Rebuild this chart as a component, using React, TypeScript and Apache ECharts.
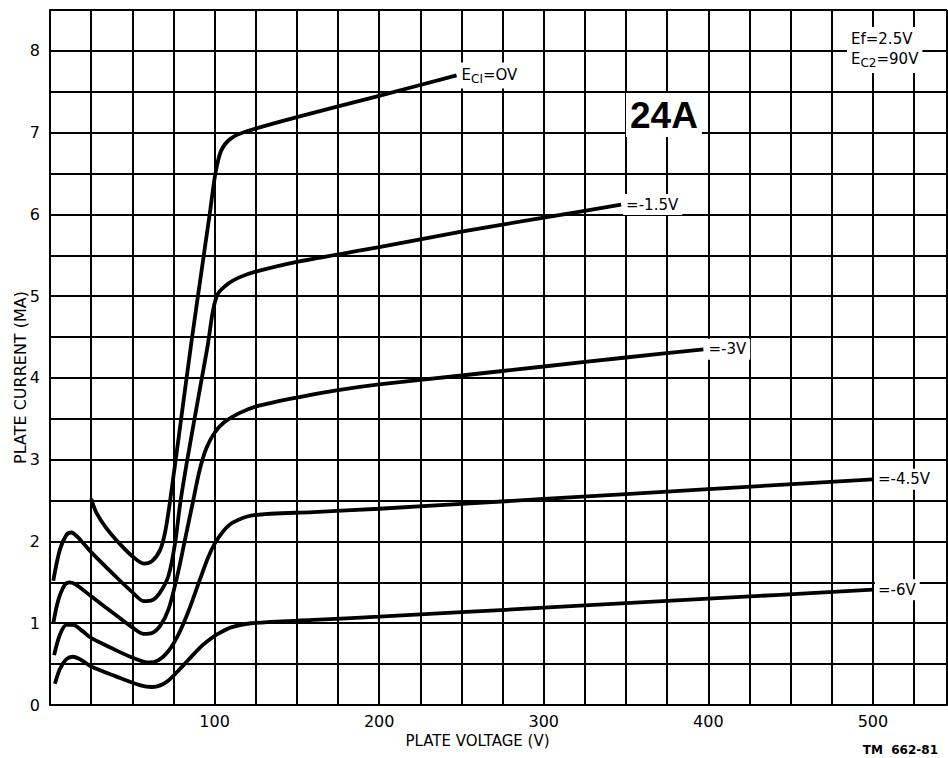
import React, { useEffect, useRef } from "react";
import * as echarts from "echarts";

const FONT = '"DejaVu Sans", "Noto Sans", sans-serif';

// Plate voltage (V) vs plate current (mA) for each control-grid bias
const curveEc0 = [
  [25, 2.52], [28, 2.36], [34, 2.17], [42, 1.98], [50, 1.82], [57, 1.73], [62, 1.76],
  [67, 1.9], [70, 2.12], [73, 2.5], [80, 3.55], [86, 4.45], [92, 5.3], [97, 6.0],
  [100.5, 6.5], [104, 6.78], [110, 6.93], [120, 7.02], [150, 7.19], [200, 7.45], [247, 7.7],
];
const curveEcM15 = [
  [2, 1.52], [6, 1.9], [10, 2.08], [13, 2.11], [17, 2.05], [25, 1.87], [40, 1.57],
  [50, 1.38], [57, 1.27], [62, 1.28], [67, 1.38], [72, 1.58], [76, 1.98], [79, 2.45],
  [83, 2.95], [88, 3.52], [92, 3.97], [96, 4.42], [99, 4.82], [102, 5.03], [108, 5.15],
  [115, 5.23], [125, 5.3], [150, 5.42], [200, 5.6], [250, 5.79], [300, 5.96], [347, 6.12],
];
const curveEcM3 = [
  [2, 1.0], [5, 1.28], [9, 1.47], [12, 1.5], [16, 1.47], [25, 1.33], [40, 1.1],
  [50, 0.95], [57, 0.87], [62, 0.88], [67, 0.97], [72, 1.17], [77, 1.55], [82, 2.02],
  [87, 2.5], [91, 2.88], [95, 3.14], [100, 3.33], [106, 3.46], [115, 3.57], [125, 3.65],
  [150, 3.76], [175, 3.85], [200, 3.92], [250, 4.03], [300, 4.14], [350, 4.25], [397, 4.35],
];
const curveEcM45 = [
  [2.5, 0.61], [6, 0.86], [10, 0.98], [14, 0.98], [20, 0.9], [25, 0.82], [40, 0.67],
  [50, 0.58], [60, 0.52], [66, 0.55], [72, 0.66], [78, 0.86], [84, 1.14], [91, 1.53],
  [96, 1.8], [100, 1.97], [105, 2.12], [111, 2.23], [123, 2.32], [160, 2.36], [200, 2.4],
  [300, 2.52], [400, 2.64], [500, 2.76],
];
const curveEcM6 = [
  [3, 0.26], [6, 0.44], [10, 0.56], [14, 0.59], [19, 0.55], [25, 0.47], [40, 0.35],
  [55, 0.24], [62, 0.22], [67, 0.24], [72, 0.3], [78, 0.42], [84, 0.55], [91, 0.7],
  [97, 0.8], [102, 0.87], [110, 0.95], [122, 1.0], [160, 1.04], [200, 1.08], [300, 1.19],
  [400, 1.3], [500, 1.41],
];

const curveLabels = ["{e|E}{s|CI}{e|=OV}", "=-1.5V", "=-3V", "=-4.5V", "=-6V"];
const curveNames = ["Ec1=0V", "Ec1=-1.5V", "Ec1=-3V", "Ec1=-4.5V", "Ec1=-6V"];
const curves = [curveEc0, curveEcM15, curveEcM3, curveEcM45, curveEcM6];

const X_MIN = 0;
const X_MAX = 545;
const X_STEP = 25;
const Y_MIN = 0;
const Y_MAX = 8.5;
const Y_STEP = 0.5;

const richSub = {
  e: { fontSize: 15, lineHeight: 20, fontFamily: FONT, color: "#000" },
  s: { fontSize: 12, lineHeight: 12, verticalAlign: "bottom", fontFamily: FONT, color: "#000" },
};

export default function App() {
  const ref = useRef<HTMLDivElement>(null);

  useEffect(() => {
    const chart = echarts.init(ref.current!, null, { renderer: "svg" });
    const series = curves.map((data, i) => ({
      type: "line",
      name: curveNames[i],
      data,
      symbol: "none",
      smooth: 0.3,
      lineStyle: { color: "#000", width: 3.8 },
      itemStyle: { color: "#000" },
      z: 5,
      endLabel: {
        show: true,
        formatter: curveLabels[i],
        color: "#000",
        fontFamily: FONT,
        fontSize: 15,
        backgroundColor: "#fff",
        padding: [3, 4, 3, 3],
        distance: 2,
        rich: richSub,
      },
    }));

    chart.setOption({
      animation: false,
      backgroundColor: "#fff",
      grid: { left: 50, top: 10, right: 1, bottom: 53, outerBoundsMode: "none", containLabel: false },
      xAxis: {
        type: "value",
        min: X_MIN,
        max: X_MAX,
        interval: X_STEP,
        axisLine: { show: true, onZero: false, lineStyle: { color: "#000", width: 2 } },
        axisTick: { show: false },
        splitLine: { show: true, lineStyle: { color: "#000", width: 2 } },
        axisLabel: {
          formatter: (v: number) => (v > 0 && v % 100 === 0 ? String(v) : ""),
          color: "#000",
          fontSize: 16,
          fontFamily: FONT,
          margin: 8,
        },
        name: "PLATE VOLTAGE (V)",
        nameLocation: "middle",
        nameGap: 28,
        nameMoveOverlap: false,
        nameTextStyle: { color: "#000", fontSize: 15, fontFamily: FONT, padding: [0, 42, 0, 0] },
      },
      yAxis: {
        type: "value",
        min: Y_MIN,
        max: Y_MAX,
        interval: Y_STEP,
        axisLine: { show: true, lineStyle: { color: "#000", width: 2 } },
        axisTick: { show: false },
        splitLine: { show: true, lineStyle: { color: "#000", width: 2 } },
        axisLabel: {
          formatter: (v: number) => (v % 1 === 0 ? String(v) : ""),
          color: "#000",
          fontSize: 16,
          fontFamily: FONT,
          margin: 10,
        },
        name: "PLATE CURRENT (MA)",
        nameLocation: "middle",
        nameGap: 22,
        nameRotate: 90,
        nameMoveOverlap: false,
        nameTextStyle: { color: "#000", fontSize: 16, fontFamily: FONT, padding: [0, 40, 0, 0] },
      },
      series,
      graphic: [
        {
          type: "text",
          left: 626,
          top: 93,
          z: 20,
          style: {
            text: "24A",
            fontSize: 37,
            fontWeight: "bold",
            fontFamily: '"Liberation Sans", Arial, sans-serif',
            fill: "#000",
            backgroundColor: "#fff",
            padding: [4, 4, 3, 4],
          },
        },
        {
          type: "text",
          left: 847,
          top: 27,
          z: 20,
          style: {
            text: "{e|Ef=2.5V}\n{e|E}{s|C2}{e|=90V}",
            rich: richSub,
            fill: "#000",
            backgroundColor: "#fff",
            padding: [2, 4, 4, 4],
          },
        },
        {
          type: "text",
          right: 10,
          top: 744,
          z: 20,
          style: {
            text: "TM  662-81",
            fontSize: 12,
            fontWeight: "bold",
            fontFamily: FONT,
            fill: "#000",
          },
        },
      ],
    });

    return () => chart.dispose();
  }, []);

  return (
    <div
      ref={ref}
      style={{ position: "absolute", left: 0, top: 0, width: 948, height: 758 }}
    />
  );
}
